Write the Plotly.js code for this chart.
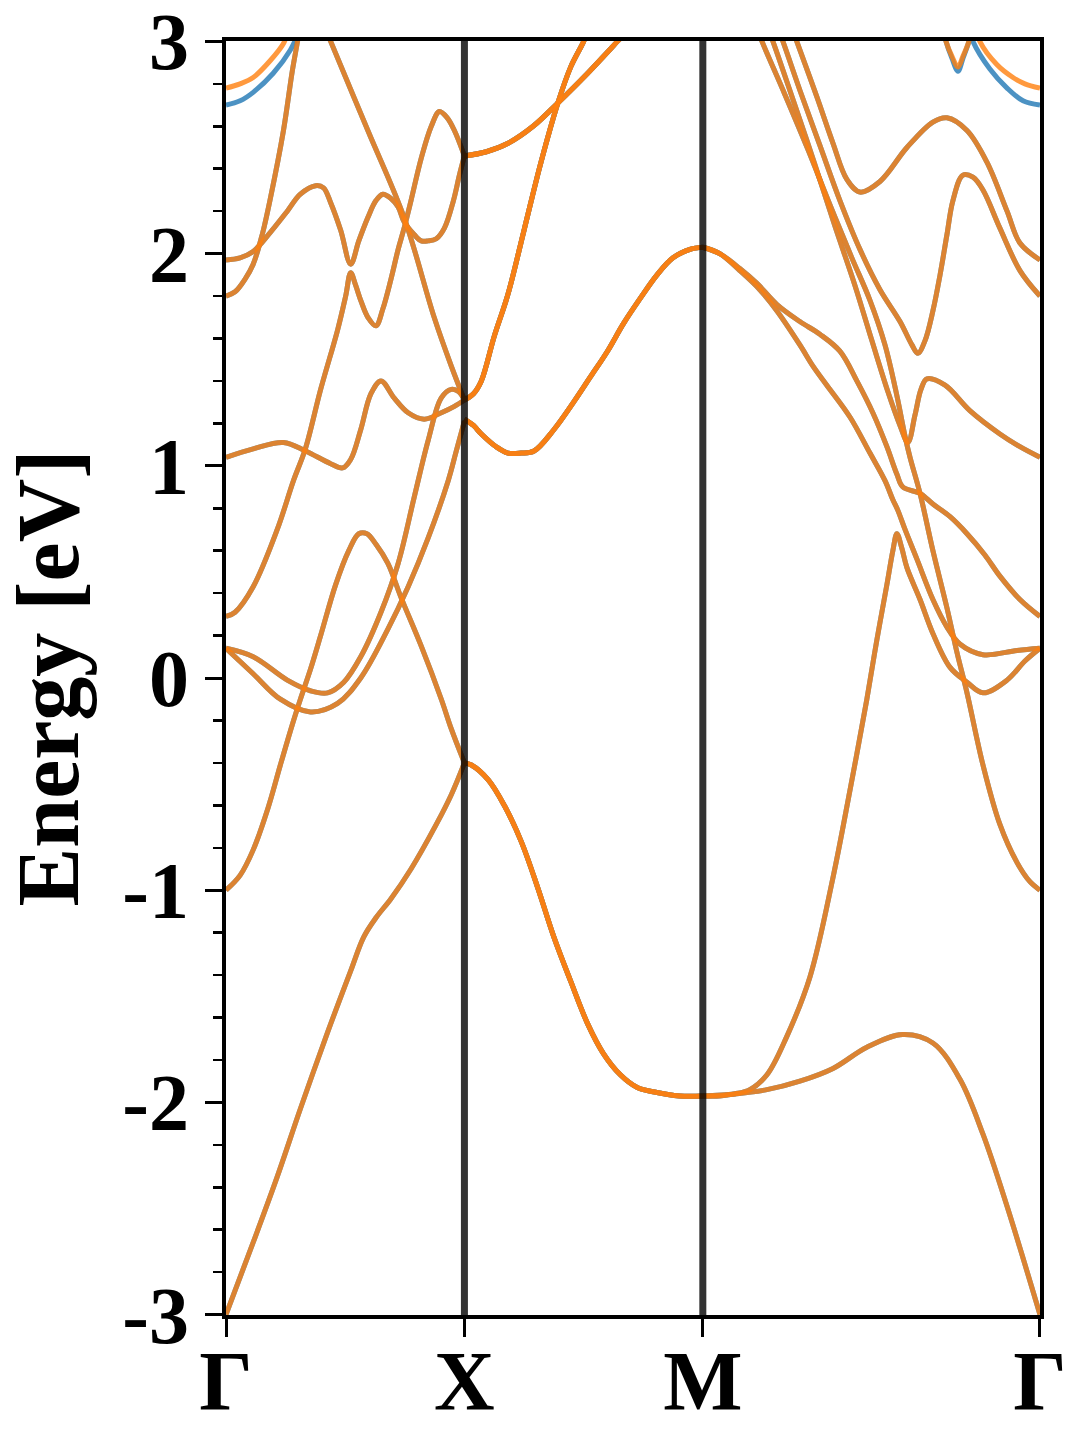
<!DOCTYPE html>
<html><head><meta charset="utf-8">
<script src="https://cdn.plot.ly/plotly-3.0.1.min.js"></script>
<style>html,body{margin:0;padding:0;background:#fff;}#chart{width:1080px;height:1440px;}</style>
</head><body><div id="chart"></div>
<script>
// ---- high-symmetry path ----
const kNodes = [0, 1, 2, 3.414];
const kLabels = ["Γ", "X", "M", "Γ"];
const yTickVals = [-3, -2, -1, 0, 1, 2, 3];
const yTickText = ["-3", "-2", "-1", "0", "1", "2", "3"];

// ---- Γ–X bands (same for both spins) ----
const gxLowK = [0,0.114,0.215,0.312,0.426,0.523,0.578,0.629,0.692,0.776,0.882,0.945,1];
const gxLowE = [-3.00,-2.66,-2.35,-2.03,-1.67,-1.38,-1.22,-1.13,-1.04,-0.90,-0.69,-0.55,-0.40];
const gxB2K = [0,0.059,0.114,0.177,0.228,0.278,0.312,0.354,0.397,0.460,0.515,0.557,0.591,0.629,0.679,0.734,0.819,0.903,0.945,1];
const gxB2E = [-1.00,-0.93,-0.81,-0.61,-0.41,-0.22,-0.10,0.04,0.20,0.44,0.60,0.68,0.68,0.63,0.54,0.38,0.15,-0.10,-0.24,-0.40];
const gxB3K = [0,0.038,0.114,0.215,0.283,0.333,0.397,0.468,0.502,0.523,0.544,0.565,0.595,0.629,0.658,0.692,0.722,0.747,0.776,0.819,0.861,0.895,0.928,0.958,1];
const gxB3E = [0.29,0.31,0.43,0.70,0.93,1.08,1.36,1.64,1.80,1.91,1.85,1.78,1.70,1.66,1.74,1.88,2.02,2.12,2.25,2.45,2.60,2.67,2.64,2.58,2.46];
const gxB4K = [0,0.059,0.114,0.186,0.257,0.312,0.376,0.409,0.439,0.481,0.523,0.557,0.595,0.629,0.658,0.692,0.722,0.747,0.789,0.819,0.848,0.882,0.916,0.954,0.979,1];
const gxB4E = [1.97,1.98,2.01,2.10,2.20,2.28,2.32,2.31,2.24,2.11,1.95,2.06,2.17,2.25,2.28,2.26,2.22,2.15,2.09,2.06,2.06,2.07,2.12,2.25,2.37,2.46];
const gxB5K = [0,0.038,0.080,0.114,0.152,0.186,0.241,0.278,0.300,0.312];
const gxB5E = [1.80,1.82,1.88,1.95,2.09,2.26,2.58,2.86,3.00,3.08];
const gxB7K = [0,0.114,0.241,0.333,0.439,0.489,0.523,0.565,0.608,0.650,0.705,0.764,0.831,0.903,0.958,1];
const gxB7E = [1.04,1.08,1.11,1.07,1.01,0.99,1.03,1.17,1.34,1.40,1.32,1.25,1.22,1.25,1.28,1.31];
const gxB8K = [0,0.114,0.257,0.354,0.426,0.494,0.565,0.650,0.722,0.789,0.848,0.903,0.945,0.975,1];
const gxB8E = [0.14,0.10,-0.01,-0.06,-0.07,-0.02,0.10,0.31,0.54,0.85,1.12,1.32,1.36,1.35,1.31];
const gxB9K = [0,0.114,0.228,0.354,0.468,0.565,0.679,0.764,0.848,0.932,0.966,1];
const gxB9E = [0.14,0.02,-0.10,-0.16,-0.12,0.00,0.23,0.43,0.66,0.93,1.07,1.21];
const gxT1K = [0.422,0.439,0.595,0.747,0.873,0.945,1];
const gxT1E = [3.05,3.00,2.58,2.17,1.70,1.47,1.31];

// ---- X–M bands (doubly degenerate) ----
const xmB1K = [1,1.092,1.183,1.288,1.392,1.517,1.642,1.675];
const xmB1E = [2.46,2.48,2.52,2.60,2.71,2.85,3.00,3.04];
const xmB2K = [1,1.038,1.071,1.125,1.183,1.250,1.321,1.392,1.446,1.500,1.513];
const xmB2E = [1.31,1.34,1.40,1.61,1.81,2.11,2.43,2.71,2.88,3.00,3.04];
const xmB3K = [1,1.038,1.071,1.133,1.183,1.238,1.292,1.375,1.458,1.529,1.600,1.667,1.738,1.808,1.875,1.946,2];
const xmB3E = [1.22,1.19,1.15,1.09,1.06,1.06,1.07,1.17,1.30,1.42,1.54,1.67,1.79,1.90,1.98,2.02,2.03];
const xmB4K = [1,1.029,1.100,1.167,1.238,1.308,1.375,1.446,1.517,1.583,1.654,1.725,1.792,1.904,2];
const xmB4E = [-0.40,-0.41,-0.48,-0.60,-0.77,-0.99,-1.22,-1.43,-1.63,-1.77,-1.87,-1.93,-1.95,-1.97,-1.97];

// ---- M–Γ bands ----
const mgLowK = [2,2.134,2.269,2.407,2.546,2.688,2.839,2.965,3.078,3.175,3.276,3.414];
const mgLowE = [-1.97,-1.96,-1.94,-1.90,-1.84,-1.74,-1.68,-1.72,-1.89,-2.15,-2.49,-3.00];
const mgSteepK = [2,2.071,2.134,2.197,2.269,2.352,2.449,2.546,2.617,2.688,2.730,2.772,2.797,2.814,2.835,2.856,2.911,2.965,3.037,3.108,3.175,3.276,3.351,3.414];
const mgSteepE = [-1.97,-1.97,-1.96,-1.94,-1.87,-1.69,-1.41,-0.94,-0.53,-0.10,0.18,0.44,0.60,0.68,0.61,0.52,0.37,0.21,0.05,-0.02,-0.07,-0.01,0.08,0.14];
const mgM2aK = [2,2.071,2.155,2.227,2.311,2.407,2.491,2.575,2.646,2.713,2.772,2.814,2.839,2.911,2.965,3.037,3.108,3.183,3.246,3.330,3.414];
const mgM2aE = [2.03,2.00,1.93,1.86,1.76,1.68,1.62,1.54,1.40,1.25,1.09,0.96,0.90,0.87,0.82,0.76,0.68,0.58,0.48,0.37,0.29];
const mgM2bK = [2,2.071,2.155,2.239,2.311,2.407,2.462,2.520,2.617,2.701,2.764,2.797,2.818,2.848,2.898,2.965,3.024,3.078,3.175,3.318,3.414];
const mgM2bE = [2.03,2.00,1.92,1.83,1.73,1.57,1.47,1.38,1.23,1.06,0.93,0.84,0.79,0.70,0.56,0.37,0.24,0.16,0.11,0.13,0.14];
const mgPK = [2.378,2.394,2.478,2.546,2.604,2.659,2.743,2.856,2.965,3.024,3.108,3.192,3.276,3.330,3.414];
const mgPE = [3.05,3.00,2.74,2.52,2.35,2.29,2.34,2.50,2.62,2.64,2.58,2.43,2.20,2.05,1.97];
const mgQK = [2.319,2.336,2.407,2.491,2.575,2.659,2.743,2.827,2.877,2.902,2.932,2.965,2.995,3.024,3.049,3.091,3.133,3.175,3.246,3.330,3.414];
const mgQE = [3.05,3.00,2.77,2.51,2.25,2.02,1.83,1.68,1.57,1.53,1.59,1.73,1.90,2.09,2.25,2.37,2.36,2.30,2.12,1.92,1.80];
const mgRK = [2.277,2.294,2.386,2.470,2.554,2.638,2.709,2.776,2.827,2.860,2.890,2.915,2.940,3.016,3.120,3.246,3.330,3.414];
const mgRE = [3.05,3.00,2.70,2.42,2.13,1.85,1.59,1.35,1.19,1.11,1.24,1.36,1.41,1.38,1.26,1.15,1.09,1.04];
const mgSK = [2.231,2.248,2.344,2.441,2.533,2.625,2.701,2.764,2.814,2.848,2.869,2.911,2.965,3.024,3.066,3.108,3.175,3.246,3.318,3.372,3.414];
const mgSE = [3.05,3.00,2.75,2.49,2.23,1.98,1.78,1.57,1.33,1.14,1.04,0.87,0.60,0.33,0.12,-0.07,-0.41,-0.69,-0.87,-0.96,-1.00];

// ---- spin-split bands (spin up = blue, spin down = orange) ----
const gxTopUpK = [0,0.059,0.114,0.198,0.270,0.304];
const gxTopUpE = [2.70,2.72,2.76,2.85,2.96,3.04];
const gxTopDnK = [0,0.059,0.114,0.186,0.241,0.257];
const gxTopDnE = [2.78,2.80,2.83,2.91,2.99,3.04];
const smallVK = [3.011,3.020,3.045,3.070,3.091,3.116,3.125];
const smallVUpE = [3.05,3.00,2.92,2.86,2.92,3.00,3.05];
const smallVDnE = [3.05,3.00,2.93,2.88,2.93,3.00,3.05];
const mgTopUpK = [3.120,3.133,3.204,3.276,3.343,3.414];
const mgTopUpE = [3.05,3.00,2.87,2.78,2.72,2.70];
const mgTopDnK = [3.150,3.162,3.234,3.301,3.351,3.414];
const mgTopDnE = [3.05,3.00,2.89,2.83,2.80,2.78];

const spinColors = {up: "#1f77b4", down: "#ff7f0e"};

// band list: [k, E, degeneracy]
const commonBands = [
  [gxLowK, gxLowE, 1], [gxB2K, gxB2E, 1], [gxB3K, gxB3E, 1], [gxB4K, gxB4E, 1],
  [gxB5K, gxB5E, 1], [gxB7K, gxB7E, 1], [gxB8K, gxB8E, 1], [gxB9K, gxB9E, 1],
  [gxT1K, gxT1E, 1],
  [xmB1K, xmB1E, 2], [xmB2K, xmB2E, 2], [xmB3K, xmB3E, 2], [xmB4K, xmB4E, 2],
  [mgLowK, mgLowE, 1], [mgSteepK, mgSteepE, 1], [mgM2aK, mgM2aE, 1], [mgM2bK, mgM2bE, 1],
  [mgPK, mgPE, 1], [mgQK, mgQE, 1], [mgRK, mgRE, 1], [mgSK, mgSE, 1]
];
const upBands = [[gxTopUpK, gxTopUpE, 1], [smallVK, smallVUpE, 1], [mgTopUpK, mgTopUpE, 1]];
const downBands = [[gxTopDnK, gxTopDnE, 1], [smallVK, smallVDnE, 1], [mgTopDnK, mgTopDnE, 1]];

const traces = [];
function addBands(list, color) {
  list.forEach(([k, e, deg]) => {
    for (let d = 0; d < deg; d++) {
      traces.push({
        x: k, y: e, type: "scatter", mode: "lines",
        line: {color: color, width: 5, shape: "spline", smoothing: 1.0},
        opacity: 0.8, hoverinfo: "skip", showlegend: false
      });
    }
  });
}
addBands(commonBands.concat(upBands), spinColors.up);
addBands(commonBands.concat(downBands), spinColors.down);

const serif = "Liberation Serif, Times New Roman, serif";
const shapes = kNodes.slice(1, 3).map(k => ({
  type: "line", xref: "x", yref: "paper", x0: k, x1: k, y0: 0, y1: 1,
  line: {color: "rgba(0,0,0,0.8)", width: 7}, layer: "above"
}));

const layout = {
  width: 1080, height: 1440,
  margin: {l: 226, r: 40, t: 41, b: 125, pad: 0},
  paper_bgcolor: "#ffffff", plot_bgcolor: "#ffffff",
  showlegend: false,
  shapes: shapes,
  xaxis: {
    range: [0, 3.4142], tickmode: "array", tickvals: kNodes, ticktext: kLabels,
    ticks: "outside", ticklen: 18, tickwidth: 3, tickcolor: "#000",
    ticklabelstandoff: -28, ticklabeloverflow: "allow",
    showline: true, linewidth: 4, linecolor: "#000", mirror: true,
    showgrid: false, zeroline: false,
    tickfont: {family: serif, size: 84, color: "#000", weight: "bold"}
  },
  yaxis: {
    range: [-3.002, 3.002], tickmode: "array", tickvals: yTickVals, ticktext: yTickText,
    ticks: "outside", ticklen: 17, tickwidth: 3, tickcolor: "#000",
    ticklabeloverflow: "allow",
    minor: {tickmode: "linear", tick0: 0, dtick: 0.2, ticks: "outside", ticklen: 9, tickwidth: 2.5, tickcolor: "#000", showgrid: false},
    showline: true, linewidth: 4, linecolor: "#000", mirror: true,
    showgrid: false, zeroline: false,
    tickfont: {family: serif, size: 80, color: "#000", weight: "bold"},
    title: {text: "Energy [eV]", font: {family: serif, size: 88, color: "#000", weight: "bold"}, standoff: 33}
  }
};

Plotly.newPlot("chart", traces, layout, {displayModeBar: false, staticPlot: true});
</script>
</body></html>
